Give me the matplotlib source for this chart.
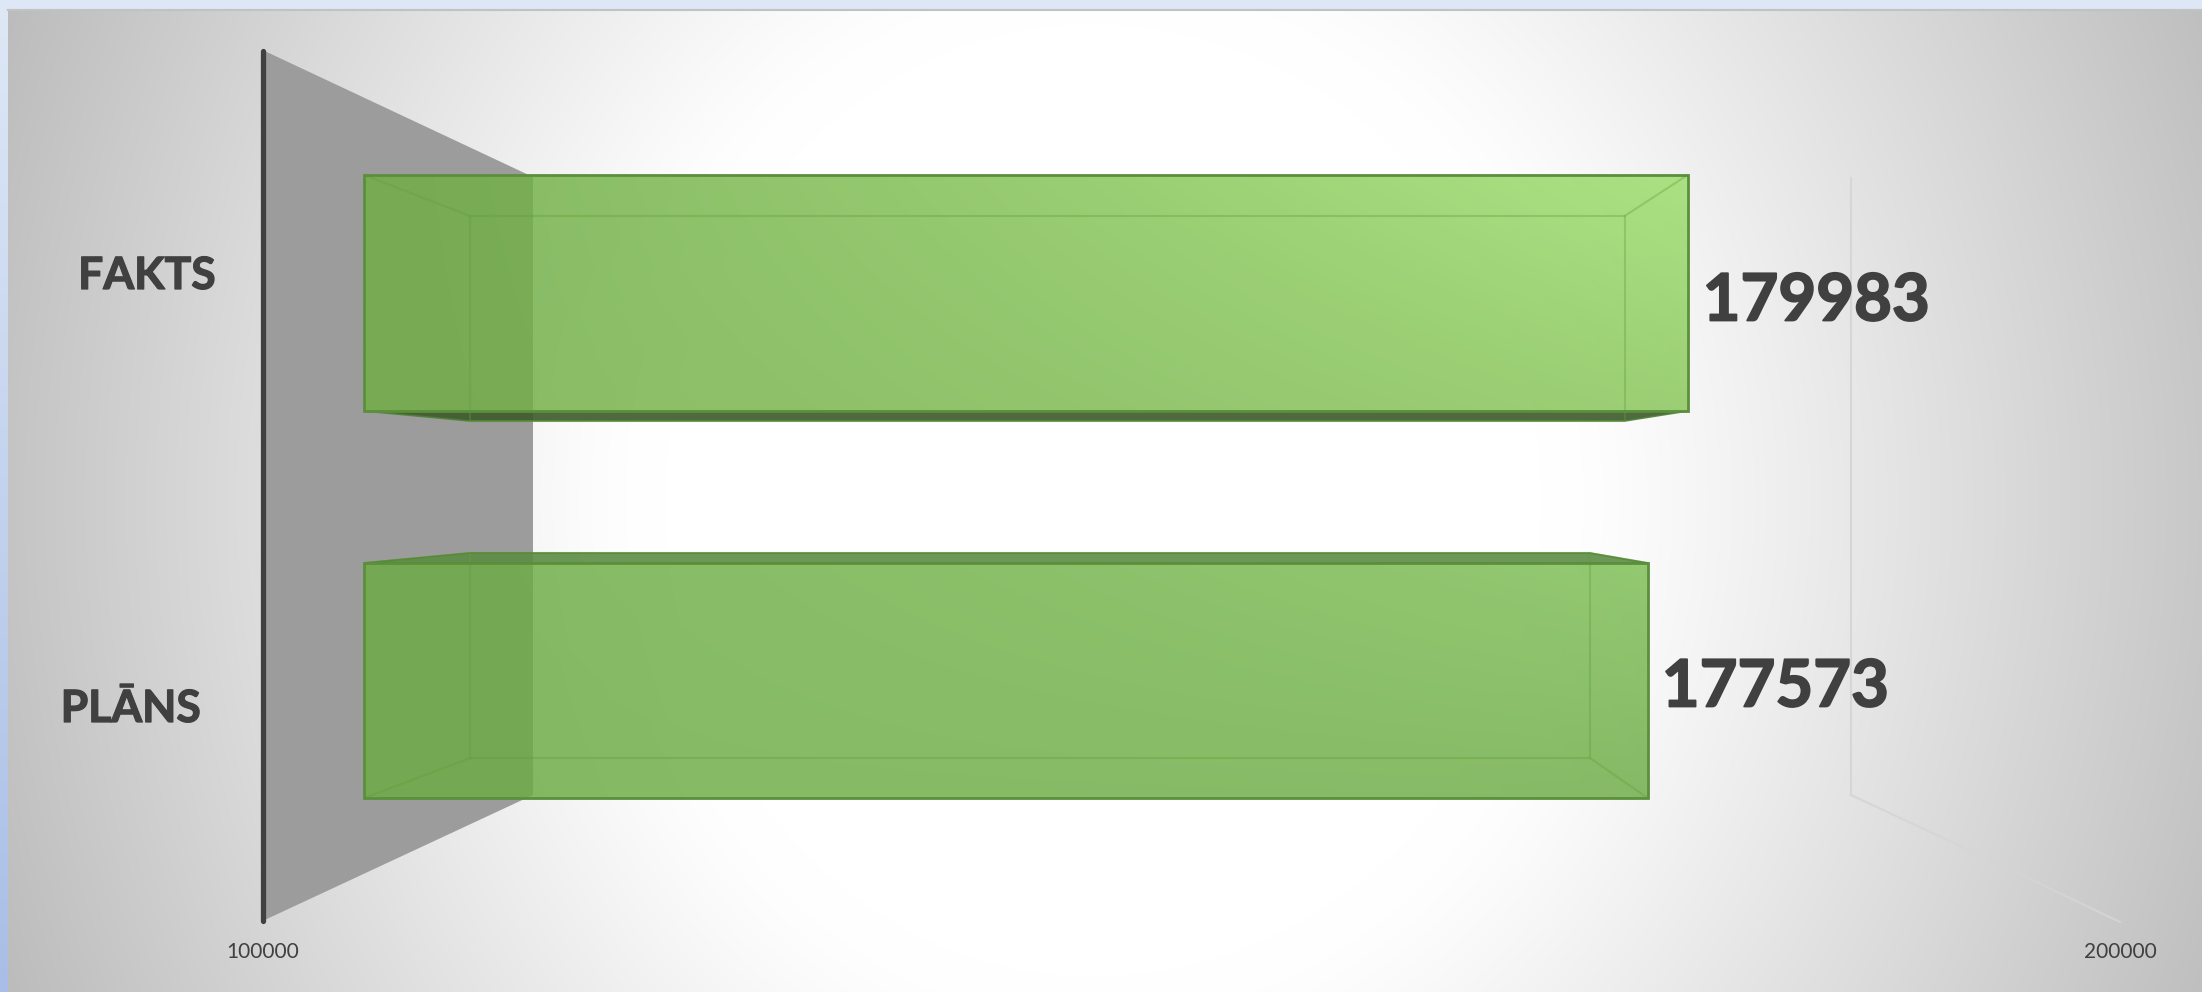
"""Plāns / fakts: 3D bar look, drawn in pixel space through a small projection."""
import matplotlib
matplotlib.use("Agg")
import matplotlib.patheffects as pe
import matplotlib.pyplot as plt
import numpy as np
from matplotlib.patches import Polygon, Rectangle

CATEGORIES = ["FAKTS", "PLĀNS"]
VALUES = [179983, 177573]
AXIS_TICKS = [100000, 200000]
VALUE_LABELS = ["179983", "177573"]

W, H = 2202, 992
TEXT = "#404040"

# floor/wall corners of the 3D box, depth 0 is the front and depth 1 the back
X0_FRONT, X1_FRONT = 262.5, 2120.0
X0_BACK, X1_BACK = 533.0, 1851.0
D_FRONT, D_BACK = 0.376, 0.7675


def project(value, depth):
    x0 = X0_FRONT + (X0_BACK - X0_FRONT) * depth
    x1 = X1_FRONT + (X1_BACK - X1_FRONT) * depth
    return x0 + (value - AXIS_TICKS[0]) / (AXIS_TICKS[1] - AXIS_TICKS[0]) * (x1 - x0)


def background():
    yy, xx = np.mgrid[0:H, 0:W]
    rx = np.where(xx < 1090, 500.0, 530.0)
    r = np.sqrt(((xx - 1090) / rx) ** 2 + ((yy - 500) / 560.0) ** 2)
    d = np.clip(r - 0.85, 0, None)
    drop = 50 * (np.sqrt(d ** 2 + 0.15 ** 2) - 0.15)
    g = np.clip(255 - drop, 0, 255) / 255.0
    img = np.dstack([g, g, g])
    # bluish slide showing around the panel
    f = (yy / H)[..., None]
    blue = (1 - f) * np.array([222, 232, 246]) / 255 + f * np.array([168, 190, 230]) / 255
    mask = (xx < 8) | (yy < 9)
    img[mask] = blue[mask]
    return img


def bar(ax, value, top, bottom, back_top, back_bottom, left_c, top_c, bot_c, dark_y, dark_c):
    xf0, xf1 = project(AXIS_TICKS[0], D_FRONT), project(value, D_FRONT)
    xb0, xb1 = project(AXIS_TICKS[0], D_BACK), project(value, D_BACK)

    # darker face sticking out of the front rectangle
    edge_y = bottom if dark_y > bottom else top
    ax.add_patch(Polygon([(xf0, edge_y), (xb0, dark_y), (xb1, dark_y), (xf1, edge_y)],
                         closed=True, fc=dark_c, ec="#4f7f35", lw=1.2, alpha=0.9, zorder=4))

    t = (np.linspace(0, 1, 256) ** 1.3)[None, :, None]
    u = np.linspace(0, 1, 64)[:, None, None]
    right = (1 - u) * np.array(top_c) + u * np.array(bot_c)
    rgb = (1 - t) * np.array(left_c) + t * right
    rgba = np.dstack([rgb / 255.0, np.full(rgb.shape[:2], 0.82)])
    im = ax.imshow(rgba, extent=(xf0, xf1, bottom, top), aspect="auto", zorder=5, interpolation="bilinear")
    im.set_clip_path(Rectangle((xf0, top), xf1 - xf0, bottom - top, transform=ax.transData))

    # inner box lines
    inner = dict(color="#5f9f35", lw=1.5, alpha=0.35, zorder=6)
    ax.plot([xb0, xb1, xb1, xb0, xb0], [back_top, back_top, back_bottom, back_bottom, back_top], **inner)
    ax.plot([xf0, xb0], [top, back_top], **inner)
    ax.plot([xf1, xb1], [top, back_top], **inner)
    if back_bottom < bottom:
        ax.plot([xf0, xb0], [bottom, back_bottom], **inner)
        ax.plot([xf1, xb1], [bottom, back_bottom], **inner)
    ax.add_patch(Rectangle((xf0, top), xf1 - xf0, bottom - top, fill=False, ec="#5b8f3c", lw=2, zorder=7))
    return xf1


fig = plt.figure(figsize=(W / 100, H / 100), dpi=100)
ax = fig.add_axes([0, 0, 1, 1])
ax.imshow(background(), extent=(0, W, H, 0), aspect="auto", zorder=0)
ax.set_xlim(0, W)
ax.set_ylim(H, 0)
ax.axis("off")

ax.plot([8, W], [9.5, 9.5], color="#c2c2c2", lw=1.5, zorder=1)

# side wall at the axis minimum
ax.add_patch(Polygon([(X0_FRONT, 50), (X0_BACK, 177), (X0_BACK, 795), (X0_FRONT, 921)],
                     closed=True, fc="#9c9c9c", ec="none", zorder=1))

# wall and floor line at the axis maximum
ax.plot([X1_BACK, X1_BACK], [178, 795], color="#d6d6d6", lw=1.5, zorder=1)
ax.plot([X1_BACK, 1990], [795, 860], color="#d6d6d6", lw=1.5, zorder=1)
ax.plot([1990, X1_FRONT], [860, 922], color="#d4d4d4", lw=1.5, zorder=1)

end0 = bar(ax, VALUES[0], 175, 411, 216, 421, (112, 174, 68), (156, 222, 106), (136, 198, 88), 421, "#3c5a2a")
end1 = bar(ax, VALUES[1], 563, 798, 553, 758, (108, 171, 66), (124, 190, 82), (110, 172, 70), 553, "#5c8c44")

ax.plot([X0_FRONT, X0_FRONT], [51, 921], color=TEXT, lw=3.8, solid_capstyle="round", zorder=8)

heavy = [pe.withStroke(linewidth=0.9, foreground=TEXT)]
heavy_big = [pe.withStroke(linewidth=1.3, foreground=TEXT)]

ax.text(147, 276, CATEGORIES[0], family="Lato", weight="bold", fontsize=32, color=TEXT, ha="center", va="center",
        zorder=9, path_effects=heavy)
ax.text(131, 709, CATEGORIES[1], family="Lato", weight="bold", fontsize=32, color=TEXT, ha="center", va="center",
        zorder=9, path_effects=heavy)

ax.text(end0 + 15, 302, VALUE_LABELS[0], family="Lato", weight="bold", fontsize=47, color=TEXT, ha="left", va="center",
        zorder=9, path_effects=heavy_big)
ax.text(end1 + 14, 688, VALUE_LABELS[1], family="Lato", weight="bold", fontsize=47, color=TEXT, ha="left", va="center",
        zorder=9, path_effects=heavy_big)

ax.text(X0_FRONT, 952, str(AXIS_TICKS[0]), family="Lato", fontsize=15, color=TEXT, ha="center", va="center", zorder=9)
ax.text(X1_FRONT, 952, str(AXIS_TICKS[1]), family="Lato", fontsize=15, color=TEXT, ha="center", va="center", zorder=9)

fig.savefig("out.png", dpi=100)
